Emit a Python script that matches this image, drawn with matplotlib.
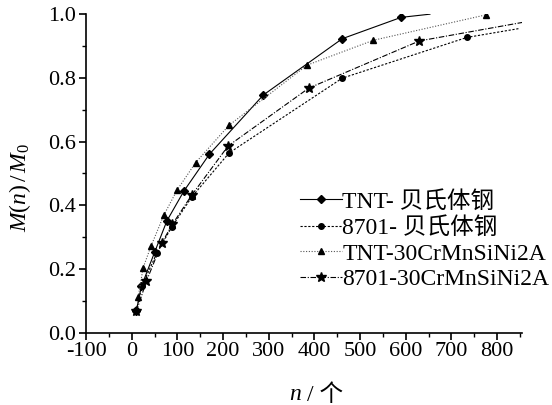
import numpy as np
import matplotlib
matplotlib.use("Agg")
import matplotlib.pyplot as plt
from matplotlib.ticker import MultipleLocator

plt.rcParams['font.family'] = ['Liberation Serif', 'Noto Sans CJK SC', 'DejaVu Sans']
plt.rcParams['mathtext.fontset'] = 'custom'
plt.rcParams['mathtext.rm'] = 'Liberation Serif'
plt.rcParams['mathtext.it'] = 'Liberation Serif:italic'
plt.rcParams['axes.unicode_minus'] = False

# data (last point of each series = end of line, no marker)
tnt_bainite_n = [10, 21, 50, 77, 114, 170, 288, 461, 590, 653]
tnt_bainite_m = [0.068, 0.145, 0.252, 0.351, 0.444, 0.560, 0.746, 0.923, 0.990, 1.000]

r8701_bainite_n = [10, 22, 55, 87, 131, 213, 461, 734, 849]
r8701_bainite_m = [0.070, 0.145, 0.250, 0.330, 0.425, 0.564, 0.799, 0.927, 0.955]

tnt_cr_n = [14, 25, 42, 70, 99, 140, 213, 384, 529, 776]
tnt_cr_m = [0.111, 0.204, 0.271, 0.368, 0.447, 0.534, 0.651, 0.840, 0.918, 0.998]

r8701_cr_n = [10, 32, 66, 89, 131, 211, 388, 630, 855]
r8701_cr_m = [0.066, 0.161, 0.282, 0.340, 0.431, 0.586, 0.768, 0.916, 0.974]

labels = ['TNT- 贝氏体钢', '8701- 贝氏体钢', 'TNT-30CrMnSiNi2A', '8701-30CrMnSiNi2A']

fig = plt.figure(figsize=(5.52, 4.05), dpi=100)
ax = fig.add_axes([0.156, 0.179, 0.79, 0.786])

ax.plot(tnt_bainite_n, tnt_bainite_m, color='black', lw=0.8, ls='-',
        marker='D', ms=4, markevery=list(range(len(tnt_bainite_n) - 1)), label=labels[0])
ax.plot(r8701_bainite_n, r8701_bainite_m, color='black', lw=0.8, ls=(0, (2, 1.5)),
        marker='o', ms=4, markevery=list(range(len(r8701_bainite_n) - 1)), label=labels[1])
ax.plot(tnt_cr_n, tnt_cr_m, color='#555555', lw=0.8, ls=(0, (1, 1.5)),
        marker='^', ms=4.5, mfc='black', mec='black',
        label=labels[2])
ax.plot(r8701_cr_n, r8701_cr_m, color='black', lw=0.8, ls=(0, (5, 1.5, 1, 1.5)),
        marker='*', ms=7, markevery=list(range(len(r8701_cr_n) - 1)), label=labels[3])

ax.set_xlim(-100, 855)
ax.set_ylim(0, 1.0)
ax.xaxis.set_major_locator(MultipleLocator(100))
ax.xaxis.set_minor_locator(MultipleLocator(50))
ax.yaxis.set_minor_locator(MultipleLocator(0.1))
ax.set_yticks(np.arange(0, 1.01, 0.2))
ax.set_yticklabels(['%.1f' % v for v in np.arange(0, 1.01, 0.2)])

for s in ['top', 'right']:
    ax.spines[s].set_visible(False)
for s in ['left', 'bottom']:
    ax.spines[s].set_linewidth(1.2)

ax.tick_params(which='major', direction='out', length=5, width=1.2, labelsize=16, pad=2)
ax.tick_params(which='minor', direction='out', length=3, width=1.0)

# axis titles
fig.text(0.546, 0.025, 'n', fontsize=17, style='italic', ha='right', va='center')
fig.text(0.556, 0.025, '/ 个', fontsize=17, ha='left', va='center')
fig.text(0.036, 0.538, r'$M(n)\,/\,M_0$', fontsize=17, rotation=90, ha='center', va='center')

leg = ax.legend(loc='upper left', bbox_to_anchor=(0.49, 0.445), frameon=False,
                fontsize=17, handlelength=1.8, handletextpad=0.0,
                labelspacing=0.18, borderpad=0, borderaxespad=0)

fig.savefig('out.png', dpi=100)
